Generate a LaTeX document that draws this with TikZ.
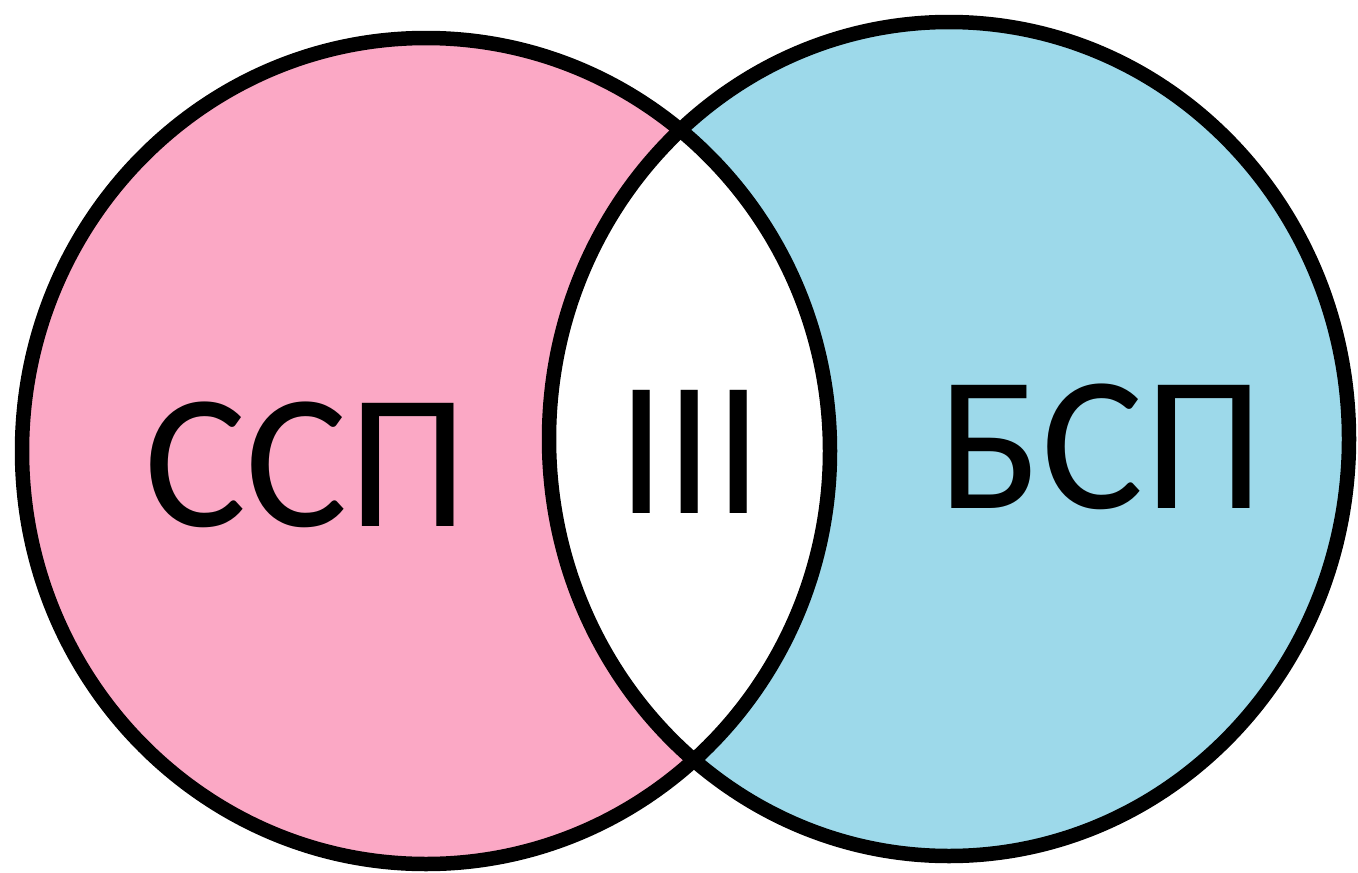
\documentclass[tikz,border=0pt]{standalone}
\usepackage{fontspec}
\setmainfont{Carlito}
\definecolor{vpink}{RGB}{251,168,197}
\definecolor{vblue}{RGB}{157,217,234}
\tikzset{
  ring/.style={draw=black, line width=14.5pt},
  biglabel/.style={inner sep=0pt, anchor=center, font=\fontsize{192}{200}\selectfont}
}
\begin{document}
\begin{tikzpicture}[x=1pt,y=-1pt]
\useasboundingbox (0,0) rectangle (1358,873);
\fill[white] (0,0) rectangle (1358,873);
\def\leftset{(426,451) ellipse [x radius=404pt, y radius=413pt]}
\def\rightset{(949,439) ellipse [x radius=400pt, y radius=417pt]}
\fill[vpink] \leftset;
\fill[vblue] \rightset;
\begin{scope}
  \clip \leftset;
  \fill[white] \rightset;
\end{scope}
\draw[ring] \leftset;
\draw[ring] \rightset;
\node[biglabel] (ssp) at (306,465) {ССП};
\node[biglabel] (mid) at (690,452) {III};
\node[biglabel] (bsp) at (1101,447) {БСП};
\end{tikzpicture}
\end{document}
